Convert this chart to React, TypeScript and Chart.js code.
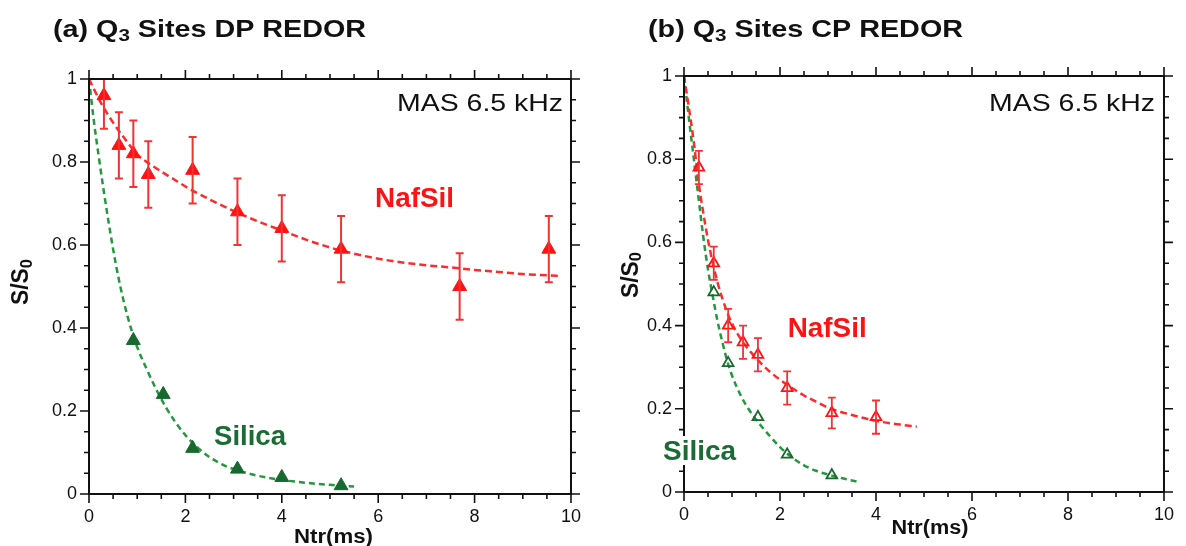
import React, { useEffect, useRef } from 'react';
import { Chart, registerables } from 'chart.js';

Chart.register(...registerables);

// ---------- Panel (a): Q3 sites DP REDOR ----------
const dpNafSilX = [0.31, 0.62, 0.92, 1.23, 2.15, 3.08, 4.0, 5.23, 7.69, 9.54];
const dpNafSilY = [0.96, 0.84, 0.82, 0.77, 0.78, 0.68, 0.64, 0.59, 0.5, 0.59];
const dpNafSilErr = [0.08, 0.08, 0.08, 0.08, 0.08, 0.08, 0.08, 0.08, 0.08, 0.08];
const dpSilicaX = [0.92, 1.54, 2.15, 3.08, 4.0, 5.23];
const dpSilicaY = [0.37, 0.24, 0.11, 0.06, 0.04, 0.02];
const dpNafSilFitX = [0, 0.25, 0.5, 0.75, 1, 1.25, 1.5, 1.75, 2, 2.5, 3, 3.5, 4, 4.5, 5, 5.5, 6, 6.5, 7, 7.5, 8, 8.5, 9, 9.5, 9.8];
const dpNafSilFitY = [1.0, 0.942, 0.895, 0.855, 0.818, 0.796, 0.777, 0.759, 0.741, 0.71, 0.682, 0.657, 0.635, 0.613, 0.594, 0.579, 0.567, 0.558, 0.551, 0.546, 0.54, 0.535, 0.53, 0.527, 0.525];
const dpSilicaFitX = [0, 0.1, 0.2, 0.3, 0.4, 0.5, 0.6, 0.7, 0.8, 0.9, 1.0, 1.2, 1.4, 1.6, 1.8, 2.0, 2.25, 2.5, 2.75, 3.0, 3.5, 4.0, 4.5, 5.0, 5.5];
const dpSilicaFitY = [1.0, 0.9, 0.815, 0.735, 0.66, 0.59, 0.528, 0.474, 0.428, 0.388, 0.354, 0.3, 0.251, 0.208, 0.172, 0.142, 0.112, 0.089, 0.072, 0.06, 0.044, 0.034, 0.027, 0.022, 0.018];

// ---------- Panel (b): Q3 sites CP REDOR ----------
const cpNafSilX = [0.31, 0.62, 0.92, 1.23, 1.54, 2.15, 3.08, 4.0];
const cpNafSilY = [0.78, 0.55, 0.4, 0.36, 0.33, 0.25, 0.19, 0.18];
const cpNafSilErr = [0.04, 0.04, 0.04, 0.04, 0.04, 0.04, 0.037, 0.04];
const cpSilicaX = [0.62, 0.92, 1.54, 2.15, 3.08];
const cpSilicaY = [0.48, 0.31, 0.18, 0.09, 0.04];
const cpNafSilFitX = [0, 0.1, 0.2, 0.3, 0.4, 0.5, 0.6, 0.7, 0.8, 0.9, 1.0, 1.2, 1.4, 1.6, 1.8, 2.0, 2.25, 2.5, 2.75, 3.0, 3.5, 4.0, 4.5, 4.85];
const cpNafSilFitY = [1.0, 0.925, 0.845, 0.748, 0.672, 0.606, 0.55, 0.503, 0.465, 0.432, 0.405, 0.365, 0.335, 0.31, 0.288, 0.27, 0.25, 0.232, 0.217, 0.203, 0.185, 0.171, 0.162, 0.157];
const cpSilicaFitX = [0, 0.1, 0.2, 0.3, 0.4, 0.5, 0.6, 0.7, 0.8, 0.9, 1.0, 1.2, 1.4, 1.6, 1.8, 2.0, 2.25, 2.5, 2.75, 3.0, 3.3, 3.6];
const cpSilicaFitY = [1.0, 0.9, 0.805, 0.71, 0.615, 0.535, 0.47, 0.41, 0.36, 0.315, 0.28, 0.228, 0.19, 0.16, 0.133, 0.108, 0.083, 0.064, 0.051, 0.042, 0.033, 0.025];

// ---------- Axes ----------
const xMin = 0, xMax = 10, xStep = 0.5, xMajor = 2;
const yMin = 0, yMax = 1, yStep = 0.05, yMajor = 0.2;

const FAMILY = "'Liberation Sans', Arial, Helvetica, sans-serif";
const RED = '#ff1212';
const RED_LINE = '#ff2b2b';
const RED_ERR = '#f03434';
const GREEN = '#17692f';
const GREEN_LINE = '#23983f';
const GREEN_TEXT = '#1b6b34';

type Run = { t: string; sub?: boolean };
type Label = {
  runs: Run[]; x: number; y: number; size: number; bold?: boolean; color: string;
  align: 'left' | 'right' | 'center'; width?: number; rotate?: boolean;
  box?: [number, number, number, number];
};

function drawLabel(ctx: CanvasRenderingContext2D, L: Label) {
  const weight = L.bold ? 'bold ' : '';
  const subSize = L.size * 0.72;
  let nat = 0;
  for (const r of L.runs) {
    ctx.font = `${weight}${r.sub ? subSize : L.size}px ${FAMILY}`;
    nat += ctx.measureText(r.t).width;
  }
  const sx = L.width ? L.width / nat : 1;
  const total = nat * sx;
  ctx.save();
  if (L.box) {
    ctx.fillStyle = '#ffffff';
    ctx.fillRect(L.box[0], L.box[1], L.box[2], L.box[3]);
  }
  ctx.translate(L.x, L.y);
  if (L.rotate) ctx.rotate(-Math.PI / 2);
  const start = L.align === 'left' ? 0 : L.align === 'right' ? -total : -total / 2;
  ctx.translate(start, 0);
  ctx.scale(sx, 1);
  ctx.fillStyle = L.color;
  ctx.textAlign = 'left';
  ctx.textBaseline = 'alphabetic';
  let cx = 0;
  for (const r of L.runs) {
    ctx.font = `${weight}${r.sub ? subSize : L.size}px ${FAMILY}`;
    ctx.fillText(r.t, cx, r.sub ? L.size * 0.16 : 0);
    cx += ctx.measureText(r.t).width;
  }
  ctx.restore();
}

const isMultiple = (v: number, m: number) => Math.abs(v / m - Math.round(v / m)) < 1e-6;

const errorBarsPlugin = {
  id: 'errorBars',
  afterDatasetsDraw(chart: any) {
    const { ctx, chartArea, scales } = chart;
    const xs = scales.x, ys = scales.y;
    ctx.save();
    ctx.beginPath();
    ctx.rect(chartArea.left, chartArea.top, chartArea.right - chartArea.left, chartArea.bottom - chartArea.top);
    ctx.clip();
    chart.data.datasets.forEach((ds: any) => {
      if (!ds.errors) return;
      ctx.strokeStyle = ds.errorColor;
      ctx.lineWidth = ds.errorWidth;
      const cap = ds.errorCap;
      ds.data.forEach((p: any, i: number) => {
        const e = ds.errors[i];
        const px = xs.getPixelForValue(p.x);
        const top = ys.getPixelForValue(p.y + e);
        const bot = ys.getPixelForValue(p.y - e);
        ctx.beginPath();
        ctx.moveTo(px, top); ctx.lineTo(px, bot);
        ctx.moveTo(px - cap, top); ctx.lineTo(px + cap, top);
        ctx.moveTo(px - cap, bot); ctx.lineTo(px + cap, bot);
        ctx.stroke();
      });
    });
    ctx.restore();
  },
};

function makeDecorPlugin(labels: Label[]) {
  return {
    id: 'decor',
    afterDraw(chart: any) {
      const { ctx, chartArea, scales } = chart;
      const { left, right, top, bottom } = chartArea;
      ctx.save();
      ctx.strokeStyle = '#111';
      ctx.lineWidth = 2;
      ctx.strokeRect(left, top, right - left, bottom - top);
      ctx.lineWidth = 1.6;
      ctx.beginPath();
      scales.x.ticks.forEach((t: any) => {
        const px = scales.x.getPixelForValue(t.value);
        const len = isMultiple(t.value, xMajor) ? 9 : 5;
        ctx.moveTo(px, bottom); ctx.lineTo(px, bottom + len);
        ctx.moveTo(px, top); ctx.lineTo(px, top - len);
      });
      scales.y.ticks.forEach((t: any) => {
        const py = scales.y.getPixelForValue(t.value);
        const len = isMultiple(t.value, yMajor) ? 9 : 5;
        ctx.moveTo(left, py); ctx.lineTo(left - len, py);
        ctx.moveTo(right, py); ctx.lineTo(right + len, py);
      });
      ctx.stroke();
      ctx.restore();
      labels.forEach((L) => drawLabel(ctx, L));
    },
  };
}

const toPts = (xs: number[], ys: number[]) => xs.map((x, i) => ({ x, y: ys[i] }));

type PanelSpec = {
  top: number; yWidth: number; xHeight: number; rightPad: number;
  nafX: number[]; nafY: number[]; nafErr: number[]; silX: number[]; silY: number[];
  nafFitX: number[]; nafFitY: number[]; silFitX: number[]; silFitY: number[];
  open: boolean; labels: Label[];
};

function makeConfig(p: PanelSpec): any {
  const markerR = p.open ? 6.2 : 8;
  return {
    type: 'line',
    data: {
      datasets: [
        {
          label: 'NafSil',
          data: toPts(p.nafX, p.nafY),
          showLine: false,
          pointStyle: 'triangle',
          pointRadius: markerR,
          pointBorderWidth: p.open ? 1.8 : 1,
          pointBackgroundColor: p.open ? 'rgba(255,255,255,0)' : RED,
          pointBorderColor: RED,
          errors: p.nafErr,
          errorColor: RED_ERR,
          errorWidth: p.open ? 1.8 : 2,
          errorCap: 4,
        },
        {
          label: 'Silica',
          data: toPts(p.silX, p.silY),
          showLine: false,
          pointStyle: 'triangle',
          pointRadius: markerR,
          pointBorderWidth: p.open ? 1.8 : 1,
          pointBackgroundColor: p.open ? 'rgba(255,255,255,0)' : GREEN,
          pointBorderColor: GREEN,
        },
        {
          label: 'NafSil fit',
          data: toPts(p.nafFitX, p.nafFitY),
          borderColor: RED_LINE,
          borderWidth: 2.5,
          borderDash: [7, 4],
          pointRadius: 0,
          cubicInterpolationMode: 'monotone',
          fill: false,
        },
        {
          label: 'Silica fit',
          data: toPts(p.silFitX, p.silFitY),
          borderColor: GREEN_LINE,
          borderWidth: 2.5,
          borderDash: [6, 4],
          pointRadius: 0,
          cubicInterpolationMode: 'monotone',
          fill: false,
        },
      ],
    },
    options: {
      responsive: false,
      animation: false,
      devicePixelRatio: 1,
      layout: { padding: { left: 0, top: p.top, right: p.rightPad, bottom: 0 } },
      plugins: { legend: { display: false }, tooltip: { enabled: false }, title: { display: false } },
      scales: {
        x: {
          type: 'linear',
          min: xMin,
          max: xMax,
          grid: { display: false, drawTicks: false },
          border: { display: false },
          ticks: {
            stepSize: xStep,
            autoSkip: false,
            maxRotation: 0,
            padding: 12,
            color: '#111',
            font: { family: FAMILY, size: 18 },
            callback: (v: number) => (isMultiple(v, xMajor) ? String(Math.round(v)) : ''),
          },
          afterFit: (s: any) => { s.height = p.xHeight; },
        },
        y: {
          type: 'linear',
          min: yMin,
          max: yMax,
          grid: { display: false, drawTicks: false },
          border: { display: false },
          ticks: {
            stepSize: yStep,
            autoSkip: false,
            padding: 12,
            color: '#111',
            font: { family: FAMILY, size: 18 },
            callback: (v: number) => {
              if (!isMultiple(v, yMajor)) return '';
              const r = Math.round(v * 10) / 10;
              return r === 0 ? '0' : r === 1 ? '1' : r.toFixed(1);
            },
          },
          afterFit: (s: any) => { s.width = p.yWidth; },
        },
      },
    },
    plugins: [errorBarsPlugin, makeDecorPlugin(p.labels)],
  };
}

const W = 593, H = 546;

const panelA: PanelSpec = {
  top: 79, yWidth: 89, xHeight: H - 494, rightPad: W - 578,
  nafX: dpNafSilX, nafY: dpNafSilY, nafErr: dpNafSilErr, silX: dpSilicaX, silY: dpSilicaY,
  nafFitX: dpNafSilFitX, nafFitY: dpNafSilFitY, silFitX: dpSilicaFitX, silFitY: dpSilicaFitY,
  open: false,
  labels: [
    { runs: [{ t: '(a) Q' }, { t: '3', sub: true }, { t: ' Sites DP REDOR' }], x: 53, y: 37, size: 24, bold: true, color: '#111', align: 'left', width: 313 },
    { runs: [{ t: 'MAS 6.5 kHz' }], x: 563, y: 110.5, size: 24, color: '#111', align: 'right', width: 166 },
    { runs: [{ t: 'NafSil' }], x: 375, y: 206.5, size: 28, bold: true, color: RED, align: 'left', width: 79 },
    { runs: [{ t: 'Silica' }], x: 214, y: 445, size: 28, bold: true, color: GREEN_TEXT, align: 'left', width: 72 },
    { runs: [{ t: 'S/S' }, { t: '0', sub: true }], x: 28, y: 282, size: 23, bold: true, color: '#111', align: 'center', width: 46, rotate: true },
    { runs: [{ t: 'Ntr(ms)' }], x: 333.5, y: 542.5, size: 20, bold: true, color: '#111', align: 'center', width: 79 },
  ],
};

const panelB: PanelSpec = {
  top: 76, yWidth: 91, xHeight: H - 492, rightPad: W - 578,
  nafX: cpNafSilX, nafY: cpNafSilY, nafErr: cpNafSilErr, silX: cpSilicaX, silY: cpSilicaY,
  nafFitX: cpNafSilFitX, nafFitY: cpNafSilFitY, silFitX: cpSilicaFitX, silFitY: cpSilicaFitY,
  open: true,
  labels: [
    { runs: [{ t: '(b) Q' }, { t: '3', sub: true }, { t: ' Sites CP REDOR' }], x: 55, y: 37, size: 24, bold: true, color: '#111', align: 'left', width: 315 },
    { runs: [{ t: 'MAS 6.5 kHz' }], x: 562, y: 110.5, size: 24, color: '#111', align: 'right', width: 166 },
    { runs: [{ t: 'NafSil' }], x: 194.7, y: 336.5, size: 28, bold: true, color: RED, align: 'left', width: 79 },
    { runs: [{ t: 'Silica' }], x: 70, y: 460, size: 28, bold: true, color: GREEN_TEXT, align: 'left', width: 73, box: [66, 436, 80, 29] },
    { runs: [{ t: 'S/S' }, { t: '0', sub: true }], x: 44.5, y: 275, size: 23, bold: true, color: '#111', align: 'center', width: 46, rotate: true },
    { runs: [{ t: 'Ntr(ms)' }], x: 337, y: 534, size: 20, bold: true, color: '#111', align: 'center', width: 77 },
  ],
};

function Panel({ spec, left }: { spec: PanelSpec; left: number }) {
  const ref = useRef<HTMLCanvasElement>(null);
  useEffect(() => {
    const chart = new Chart(ref.current as HTMLCanvasElement, makeConfig(spec));
    return () => chart.destroy();
  }, [spec]);
  return (
    <canvas
      ref={ref}
      width={W}
      height={H}
      style={{ position: 'absolute', left, top: 0, width: W, height: H }}
    />
  );
}

export default function App() {
  return (
    <div style={{ position: 'fixed', left: 0, top: 0, width: 1186, height: 546, background: '#ffffff', overflow: 'hidden' }}>
      <Panel spec={panelA} left={0} />
      <Panel spec={panelB} left={593} />
    </div>
  );
}
